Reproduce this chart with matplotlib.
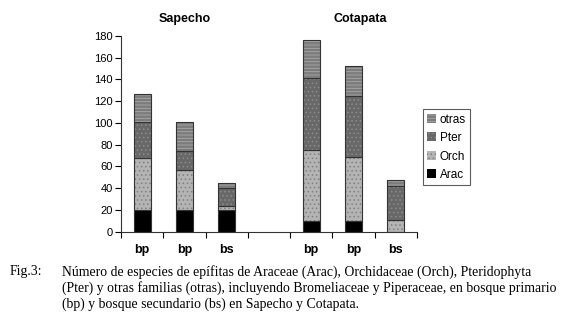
import matplotlib.pyplot as plt
import numpy as np

# --- data ---
categories = ["bp", "bp", "bs", "", "bp", "bp", "bs"]
arac  = [20, 20, 20, 0, 10, 10, 0]
orch  = [48, 37, 4, 0, 65, 59, 11]
pter  = [33, 17, 16, 0, 66, 56, 31]
otras = [26, 27, 5, 0, 35, 27, 6]
sites = ["Sapecho", "Cotapata"]

caption_label = "Fig.3:"
caption_lines = [
    "Número de especies de epífitas de Araceae (Arac), Orchidaceae (Orch), Pteridophyta",
    "(Pter) y otras familias (otras), incluyendo Bromeliaceae y Piperaceae, en bosque primario",
    "(bp) y bosque secundario (bs) en Sapecho y Cotapata.",
]

plt.rcParams['font.family'] = ['Liberation Sans', 'DejaVu Sans']
plt.rcParams['hatch.linewidth'] = 0.6

fig = plt.figure(figsize=(5.7, 3.21), dpi=100)
ax = fig.add_axes([0.2123, 0.278, 0.519, 0.61])

x = np.arange(len(categories))
width = 0.4

# (label, values, facecolor, hatch, hatch colour)
series = [
    ("Arac", arac, "#000000", None, "#000000"),
    ("Orch", orch, "#b4b4b4", "....", "#808080"),
    ("Pter", pter, "#686868", "....", "#8c8c8c"),
    ("otras", otras, "#7c7c7c", "-----", "#a8a8a8"),
]

bottom = np.zeros(len(categories))
handles = []
for name, vals, fc, hatch, hc in series:
    vals = np.array(vals, dtype=float)
    bars = ax.bar(x, vals, width, bottom=bottom, color=fc, hatch=hatch,
                  edgecolor=hc, linewidth=0, label=name)
    # dark outline on top, only where the segment exists
    keep = vals > 0
    ax.bar(x[keep], vals[keep], width, bottom=bottom[keep], facecolor="none",
           edgecolor="#333333", linewidth=0.8)
    handles.append(bars)
    bottom += vals

ax.set_xlim(-0.5, len(categories) - 0.5)
ax.set_ylim(0, 180)
ax.set_yticks(np.arange(0, 181, 20))
ax.tick_params(axis='y', labelsize=8, length=4, width=0.8, pad=2)

ax.set_xticks(np.arange(-0.5, len(categories), 1.0))
ax.set_xticklabels([])
ax.tick_params(axis='x', length=4, width=0.8)
for xi, lab in zip(x, categories):
    ax.text(xi, -11, lab, ha='center', va='top', fontsize=9,
            fontweight='bold', transform=ax.transData, clip_on=False)

for sp in ['top', 'right']:
    ax.spines[sp].set_visible(False)
for sp in ['left', 'bottom']:
    ax.spines[sp].set_color('#333333')
    ax.spines[sp].set_linewidth(0.8)

# site titles over each group
ax.text(1, 190, sites[0], ha='center', va='bottom', fontsize=9,
        fontweight='bold', clip_on=False)
ax.text(5.15, 190, sites[1], ha='center', va='bottom', fontsize=9,
        fontweight='bold', clip_on=False)

leg = ax.legend(handles[::-1], [s[0] for s in series][::-1],
                loc='upper left', bbox_to_anchor=(1.0, 0.655),
                fontsize=8.5, frameon=True, fancybox=False,
                handlelength=0.8, handleheight=0.8, handletextpad=0.3,
                borderpad=0.35, labelspacing=0.55)
leg.get_frame().set_edgecolor('#333333')
leg.get_frame().set_linewidth(0.8)

fig.text(10 / 570, 1 - 272 / 321, caption_label, family='Liberation Serif',
         fontsize=9.9, va='center', ha='left')
for i, line in enumerate(caption_lines):
    fig.text(62 / 570, 1 - (272 + 16 * i) / 321, line,
             family='Liberation Serif', fontsize=9.9, va='center', ha='left')

fig.savefig('out.png', dpi=100)
